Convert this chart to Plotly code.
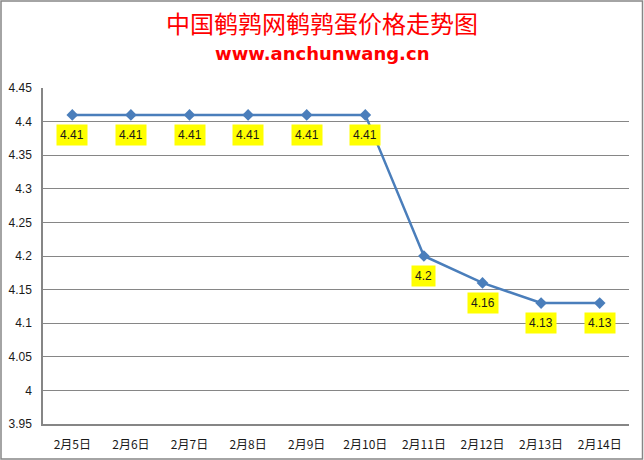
import plotly.graph_objects as go

dates = ["2月5日", "2月6日", "2月7日", "2月8日", "2月9日", "2月10日", "2月11日", "2月12日", "2月13日", "2月14日"]
prices = [4.41, 4.41, 4.41, 4.41, 4.41, 4.41, 4.2, 4.16, 4.13, 4.13]
y_ticks = [3.95, 4.0, 4.05, 4.1, 4.15, 4.2, 4.25, 4.3, 4.35, 4.4, 4.45]
y_tick_text = ["3.95", "4", "4.05", "4.1", "4.15", "4.2", "4.25", "4.3", "4.35", "4.4", "4.45"]

title_text = "中国鹌鹑网鹌鹑蛋价格走势图"
subtitle_text = "www.anchunwang.cn"

W, H = 644, 460
ml, mr, mt, mb = 43, 15, 88, 36
pw, ph = W - ml - mr, H - mt - mb

def px_x(px):
    return (px - ml) / pw

def px_y(py):
    return (H - mb - py) / ph

fig = go.Figure()
fig.add_trace(go.Scatter(
    x=dates, y=prices, mode="lines+markers",
    line=dict(color="#4A7EBB", width=2.5),
    marker=dict(symbol="diamond", size=9, color="#4A7EBB"),
    hoverinfo="x+y", showlegend=False,
))

for d, p in zip(dates, prices):
    fig.add_annotation(
        x=d, y=p, xref="x", yref="y", text=f"{p:g}", showarrow=False,
        yshift=-20, bgcolor="#FFFF00", borderpad=3,
        font=dict(family="Liberation Sans, Arial", size=12, color="#1a1a1a"),
    )

fig.add_annotation(
    x=px_x(322), y=px_y(22), xref="paper", yref="paper", text=title_text, showarrow=False,
    font=dict(family="Noto Sans CJK SC", size=24, color="#FF0000"), xanchor="center", yanchor="middle",
)
fig.add_annotation(
    x=px_x(322), y=px_y(54), xref="paper", yref="paper", text=f"<b>{subtitle_text}</b>", showarrow=False,
    font=dict(family="DejaVu Sans, Verdana", size=18, color="#FF0000"), xanchor="center", yanchor="middle",
)

# outer chart border
fig.add_shape(type="rect", xref="paper", yref="paper",
              x0=px_x(1), x1=px_x(642.5), y0=px_y(459), y1=px_y(1),
              line=dict(color="#868686", width=1.5), layer="below")

fig.update_layout(
    width=W, height=H,
    margin=dict(l=ml, r=mr, t=mt, b=mb, autoexpand=False),
    paper_bgcolor="white", plot_bgcolor="white",
    xaxis=dict(
        type="category", range=[-0.5, len(dates) - 0.5],
        showgrid=False, showline=True, linecolor="#868686", linewidth=1.5,
        ticks="", ticklabelstandoff=9, automargin=False,
        tickfont=dict(family="Noto Sans CJK SC", size=12, color="#1a1a1a"),
        fixedrange=True,
    ),
    yaxis=dict(
        range=[3.95, 4.45], tickvals=y_ticks, ticktext=y_tick_text,
        showgrid=True, gridcolor="#868686", gridwidth=1.2,
        showline=True, linecolor="#868686", linewidth=1.5,
        ticks="", ticklabelstandoff=7, zeroline=False, automargin=False,
        tickfont=dict(family="Liberation Sans, Arial", size=12, color="#1a1a1a"),
        fixedrange=True,
    ),
)

fig.write_html("out.html", config={"displayModeBar": False},
               post_script="document.body.style.margin='0';document.body.style.overflow='hidden';")
